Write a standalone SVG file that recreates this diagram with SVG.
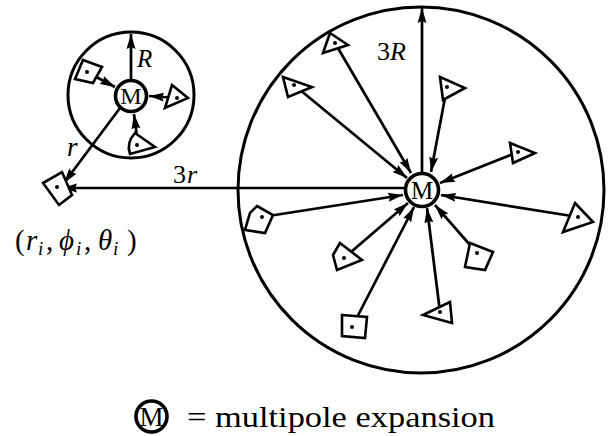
<svg xmlns="http://www.w3.org/2000/svg" width="609" height="436" viewBox="0 0 609 436">
<defs>
<marker id="ah" markerUnits="userSpaceOnUse" markerWidth="16" markerHeight="10" refX="15" refY="5" orient="auto">
<path d="M0,0.5 L15,5 L0,9.5 L2,5 z" fill="#000"/>
</marker>
<style>
.c{fill:none;stroke:#000;stroke-width:3}
.m{fill:#fff;stroke:#000;stroke-width:3.6}
.s{fill:#fff;stroke:#000;stroke-width:2.6;stroke-linejoin:miter}
.d{fill:#000}
.a{fill:none;stroke:#000;stroke-width:2.7;marker-end:url(#ah)}
.i{font-style:italic}
</style>
</defs>
<rect width="609" height="436" fill="#fff"/>
<g id="small-cell"><circle class="c" cx="131" cy="95" r="63"/></g>
<g id="big-cell"><circle class="c" cx="421" cy="190" r="183"/></g>
<g id="connectors">
<line class="a" x1="131" y1="80" x2="131" y2="34"/>
<line class="a" x1="87" y1="72" x2="115" y2="87"/>
<line class="a" x1="177" y1="98" x2="149" y2="96"/>
<line class="a" x1="138" y1="145" x2="134" y2="114"/>
<line class="a" x1="120" y1="108" x2="64" y2="183"/>
<line class="a" x1="404" y1="188" x2="62" y2="188"/>
<line class="a" x1="422" y1="172" x2="422" y2="8"/>
<line class="a" x1="294" y1="85" x2="407" y2="178"/>
<line class="a" x1="335" y1="43" x2="411" y2="173"/>
<line class="a" x1="447" y1="87" x2="431" y2="172"/>
<line class="a" x1="518" y1="152" x2="440" y2="183"/>
<line class="a" x1="578" y1="217" x2="441" y2="195"/>
<line class="a" x1="262" y1="217" x2="403" y2="195"/>
<line class="a" x1="344" y1="258" x2="408" y2="203"/>
<line class="a" x1="352" y1="327" x2="414" y2="207"/>
<line class="a" x1="440" y1="312" x2="427" y2="208"/>
<line class="a" x1="477" y1="253" x2="435" y2="205"/>
</g>
<g id="small-M"><circle class="m" cx="131" cy="96" r="15.5"/><text font-family="Liberation Serif, DejaVu Serif, serif" x="131" y="104" font-size="24" text-anchor="middle">M</text></g>
<g id="big-M"><circle class="m" cx="422" cy="190" r="16.5"/><text font-family="Liberation Serif, DejaVu Serif, serif" x="422" y="198.5" font-size="25" text-anchor="middle">M</text></g>
<g id="p-small-sq"><polygon class="s" points="83,60 102,67 93,83 75,79"/><circle class="d" cx="87" cy="72" r="2"/></g>
<g id="p-small-tri"><polygon class="s" points="172,85 188,98 165,108"/><circle class="d" cx="177" cy="98" r="2"/></g>
<g id="p-small-bot"><path class="s" d="M135,133 L155,147 L130,154 Q126,143 135,133 z"/><circle class="d" cx="137" cy="145" r="2"/></g>
<g id="p-target"><polygon class="s" points="43,183 62,172 72,195 59,205"/><circle class="d" cx="57" cy="187" r="2"/></g>
<g id="p-A"><polygon class="s" points="283,77 312,87 288,97"/><circle class="d" cx="294" cy="85" r="2"/></g>
<g id="p-B"><polygon class="s" points="330,33 348,45 323,53"/><circle class="d" cx="335" cy="43" r="2"/></g>
<g id="p-C"><polygon class="s" points="440,77 465,88 443,100"/><circle class="d" cx="447" cy="87" r="2"/></g>
<g id="p-D"><polygon class="s" points="510,143 535,153 513,163"/><circle class="d" cx="518" cy="152" r="2"/></g>
<g id="p-E"><polygon class="s" points="575,203 593,222 563,232"/><circle class="d" cx="578" cy="217" r="2"/></g>
<g id="p-F"><polygon class="s" points="257,206 273,215 265,233 245,230 250,213"/><circle class="d" cx="262" cy="217" r="2"/></g>
<g id="p-G"><polygon class="s" points="340,243 362,260 337,270 333,255"/><circle class="d" cx="344" cy="258" r="2"/></g>
<g id="p-H"><polygon class="s" points="342,315 367,317 365,338 342,336"/><circle class="d" cx="352" cy="327" r="2"/></g>
<g id="p-I"><polygon class="s" points="423,315 450,302 452,323"/><circle class="d" cx="440" cy="312" r="2"/></g>
<g id="p-J"><polygon class="s" points="470,243 493,252 485,270 465,267"/><circle class="d" cx="477" cy="253" r="2"/></g>
<g id="labels" font-family="Liberation Serif, DejaVu Serif, serif">
<text class="i" x="137" y="67" font-size="25">R</text>
<text x="377" y="60" font-size="26">3<tspan class="i" x="390">R</tspan></text>
<text x="173" y="183" font-size="26">3<tspan class="i" x="187">r</tspan></text>
<text class="i" x="67" y="156" font-size="27">r</text>
<text x="15" y="250" font-size="29">(<tspan class="i" x="26">r</tspan><tspan class="i" font-size="19" x="38" y="255">i</tspan><tspan x="46" y="250">,</tspan><tspan class="i" x="59">ϕ</tspan><tspan class="i" font-size="19" x="76" y="255">i</tspan><tspan x="84" y="250">,</tspan><tspan class="i" x="98">θ</tspan><tspan class="i" font-size="19" x="113" y="255">i</tspan><tspan x="127" y="250">)</tspan></text>
</g>
<g id="legend" font-family="Liberation Serif, DejaVu Serif, serif">
<circle class="m" cx="151.5" cy="416.5" r="15.5" stroke-width="4"/>
<text x="151.5" y="426" font-size="27" text-anchor="middle">M</text>
<text x="187" y="427" font-size="30" textLength="308" lengthAdjust="spacingAndGlyphs">= multipole expansion</text>
</g>
</svg>
